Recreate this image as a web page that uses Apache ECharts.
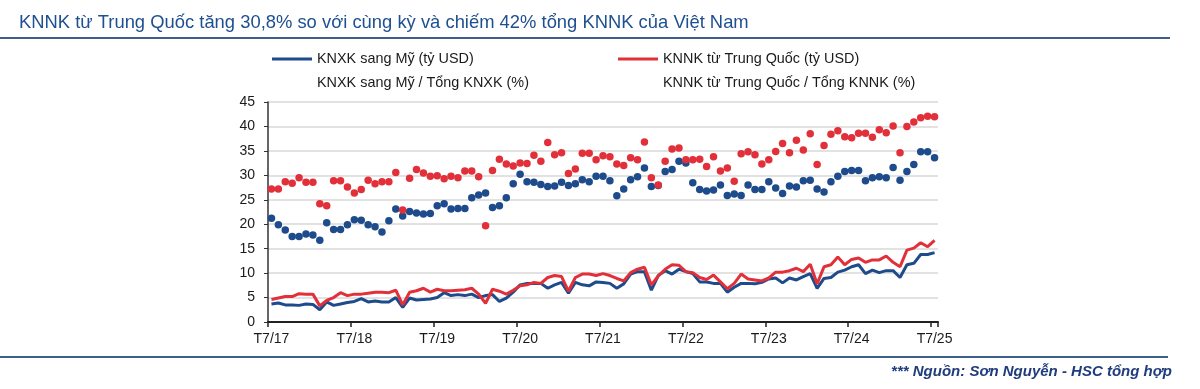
<!DOCTYPE html>
<html>
<head>
<meta charset="utf-8">
<script src="https://cdn.jsdelivr.net/npm/echarts@6/dist/echarts.min.js"></script>
<style>
html,body{margin:0;padding:0;background:#fff;}
#chart{width:1200px;height:389px;}
</style>
</head>
<body>
<div id="chart"></div>
<script>
// Months T7/17 .. T7/25 (97 months)
const categories = [];
for (let k = 0; k < 97; k++) {
  const m = ((6 + k) % 12) + 1;
  const y = 17 + Math.floor((6 + k) / 12);
  categories.push('T' + m + '/' + y);
}
const yTicks = [0, 5, 10, 15, 20, 25, 30, 35, 40, 45];

const seriesNames = [
  'KNXK sang Mỹ (tỷ USD)',
  'KNNK từ Trung Quốc (tỷ USD)',
  'KNXK sang Mỹ / Tổng KNXK (%)',
  'KNNK từ Trung Quốc / Tổng KNNK (%)'
];

// KNXK sang Mỹ (tỷ USD)
const exportUS = [
  3.7,3.9,3.5,3.5,3.4,3.7,3.6,2.5,4.1,3.4,3.7,4.0,
  4.2,4.8,4.1,4.3,4.1,4.1,5.0,3.0,4.9,4.5,4.6,4.7,
  5.0,6.0,5.4,5.6,5.4,5.7,5.0,5.4,5.6,4.2,4.9,6.1,
  7.6,7.9,7.9,7.9,6.9,7.6,8.1,5.9,8.1,7.6,7.4,8.2,
  8.1,7.9,6.9,7.8,9.8,10.3,10.3,6.5,9.5,10.5,9.8,10.8,
  10.3,9.9,8.2,8.2,7.9,7.9,6.1,7.1,7.9,7.9,7.8,8.1,
  8.8,9.0,8.0,9.0,8.6,9.3,9.9,6.9,8.9,9.1,10.2,10.6,
  11.3,11.7,9.9,10.6,10.1,10.5,10.5,9.1,11.7,12.0,13.8,13.8,14.2
];
// KNNK từ Trung Quốc (tỷ USD)
const importCN = [
  4.6,4.9,5.2,5.2,5.8,5.7,5.7,3.3,4.4,5.0,6.0,5.4,
  5.7,5.7,5.9,6.1,6.1,6.0,6.5,3.5,6.1,6.4,6.9,6.1,
  6.7,6.4,6.4,6.5,6.6,6.9,5.7,3.8,6.7,6.3,5.7,6.5,
  7.4,7.6,8.1,7.9,9.1,9.5,9.3,6.3,9.1,9.8,9.8,9.5,
  9.9,9.5,8.9,8.4,10.1,10.8,11.2,7.6,9.4,10.8,11.7,11.6,
  10.3,10.1,9.1,8.7,9.6,8.2,6.8,7.9,9.8,8.8,8.6,8.4,
  9.0,10.2,10.2,10.5,11.0,10.3,11.8,7.8,11.3,11.7,13.3,11.7,
  12.8,13.1,12.2,12.7,12.7,13.5,12.2,11.3,14.7,15.1,16.2,15.4,16.7
];
// KNXK sang Mỹ / Tổng KNXK (%)
const shareUS = [
  21.2,19.9,18.8,17.5,17.5,18.0,17.8,16.7,20.3,18.9,18.9,19.9,
  20.9,20.8,19.9,19.5,18.4,20.7,23.1,21.7,22.6,22.3,22.1,22.2,
  23.8,24.2,23.1,23.2,23.2,25.4,26.0,26.4,23.4,23.8,25.4,28.3,
  30.2,28.7,28.6,28.1,27.7,27.8,28.6,27.9,28.3,29.1,28.7,29.8,
  29.8,28.9,25.8,27.2,29.1,29.7,31.5,27.7,27.9,30.8,31.2,32.9,
  32.5,28.5,27.1,26.8,27.0,28.0,25.9,26.2,25.9,28.0,27.1,27.1,
  28.7,27.4,26.3,27.8,27.6,28.9,29.0,27.2,26.6,28.7,29.8,30.8,
  31.0,31.0,28.9,29.5,29.7,29.5,31.6,29.0,30.8,32.2,34.8,34.8,33.6
];
// KNNK từ Trung Quốc / Tổng KNNK (%)
const shareCN = [
  27.2,27.2,28.7,28.4,29.5,28.6,28.6,24.2,23.8,28.9,28.9,27.6,
  26.4,27.1,29.0,28.3,28.7,28.7,30.6,22.9,29.4,31.2,30.5,29.8,
  29.9,29.3,29.8,29.5,30.9,30.9,29.7,19.7,31.0,33.3,32.3,31.9,
  32.5,32.4,34.1,32.9,36.7,34.2,34.6,30.4,31.3,34.5,34.5,33.2,
  34.0,33.8,32.3,32.0,33.6,33.2,36.8,29.5,28.0,32.9,35.4,35.6,
  33.2,33.2,33.3,31.8,33.8,30.9,31.5,28.8,34.4,34.8,34.2,32.3,
  33.2,34.9,36.5,34.6,37.2,35.2,38.5,32.2,36.1,38.4,39.1,37.9,
  37.7,38.6,38.6,37.8,39.3,38.7,40.1,34.6,40.0,40.9,41.8,42.1,42.0
];

const BLUE = '#1D4B8B';
const RED = '#E2303A';
const FONT = '"Liberation Sans", Arial, sans-serif';

const chart = echarts.init(document.getElementById('chart'), null, {renderer: 'canvas'});

const legendBase = {
  orient: 'horizontal',
  padding: 0,
  itemWidth: 40,
  itemHeight: 3,
  icon: 'rect',
  selectedMode: false,
  textStyle: {fontFamily: FONT, fontSize: 14.4, color: '#1a1a1a', padding: 0}
};

chart.setOption({
  animation: false,
  backgroundColor: '#ffffff',
  title: {
    text: 'KNNK từ Trung Quốc tăng 30,8% so với cùng kỳ và chiếm 42% tổng KNNK của Việt Nam',
    left: 19, top: 14, padding: 0,
    textStyle: {fontFamily: FONT, fontSize: 18.4, fontWeight: 'normal', color: '#1E4F91'}
  },
  legend: [
    Object.assign({}, legendBase, {data: [seriesNames[0]], left: 272, top: 52}),
    Object.assign({}, legendBase, {data: [seriesNames[1]], left: 618, top: 52}),
    Object.assign({}, legendBase, {data: [seriesNames[2]], left: 272, top: 76, itemStyle: {opacity: 0}}),
    Object.assign({}, legendBase, {data: [seriesNames[3]], left: 618, top: 76, itemStyle: {opacity: 0}})
  ],
  grid: {left: 268, right: 262, top: 102, bottom: 67, containLabel: false},
  xAxis: {
    type: 'category',
    data: categories,
    boundaryGap: true,
    axisLine: {show: true, lineStyle: {color: '#222', width: 2}},
    axisTick: {show: true, length: 5, interval: function (i) { return i % 12 === 0; }, lineStyle: {color: '#222', width: 1.5}},
    axisLabel: {
      interval: function (i) { return i % 12 === 0; },
      margin: 10,
      fontFamily: FONT, fontSize: 14, color: '#1a1a1a'
    },
    splitLine: {show: false}
  },
  yAxis: {
    type: 'value',
    min: yTicks[0], max: yTicks[yTicks.length - 1], interval: 5,
    axisLine: {show: true, lineStyle: {color: '#333', width: 1.5}},
    axisTick: {show: true, length: 4, lineStyle: {color: '#333'}},
    axisLabel: {margin: 13, fontFamily: FONT, fontSize: 14, color: '#1a1a1a'},
    splitLine: {show: true, lineStyle: {color: '#d9d9d9', width: 1.5}}
  },
  series: [
    {name: seriesNames[0], type: 'line', data: exportUS, symbol: 'none', color: BLUE,
     lineStyle: {color: BLUE, width: 3}, z: 2},
    {name: seriesNames[1], type: 'line', data: importCN, symbol: 'none', color: RED,
     lineStyle: {color: RED, width: 3}, z: 2},
    {name: seriesNames[2], type: 'scatter', data: shareUS, symbol: 'circle', symbolSize: 7.5,
     itemStyle: {color: BLUE, opacity: 1}, z: 3},
    {name: seriesNames[3], type: 'scatter', data: shareCN, symbol: 'circle', symbolSize: 7.5,
     itemStyle: {color: RED, opacity: 1}, z: 4}
  ],
  graphic: [
    {type: 'rect', shape: {x: 0, y: 37, width: 1170, height: 2}, style: {fill: '#3E5F88'}, silent: true},
    {type: 'rect', shape: {x: 0, y: 356, width: 1168, height: 2}, style: {fill: '#3E5F88'}, silent: true},
    {type: 'text', right: 28, top: 364,
     style: {text: '*** Nguồn: Sơn Nguyễn - HSC tổng hợp', font: 'italic bold 15px "Liberation Sans", Arial, sans-serif', fill: '#1F3C7C', textAlign: 'right'}}
  ]
});
</script>
</body>
</html>
